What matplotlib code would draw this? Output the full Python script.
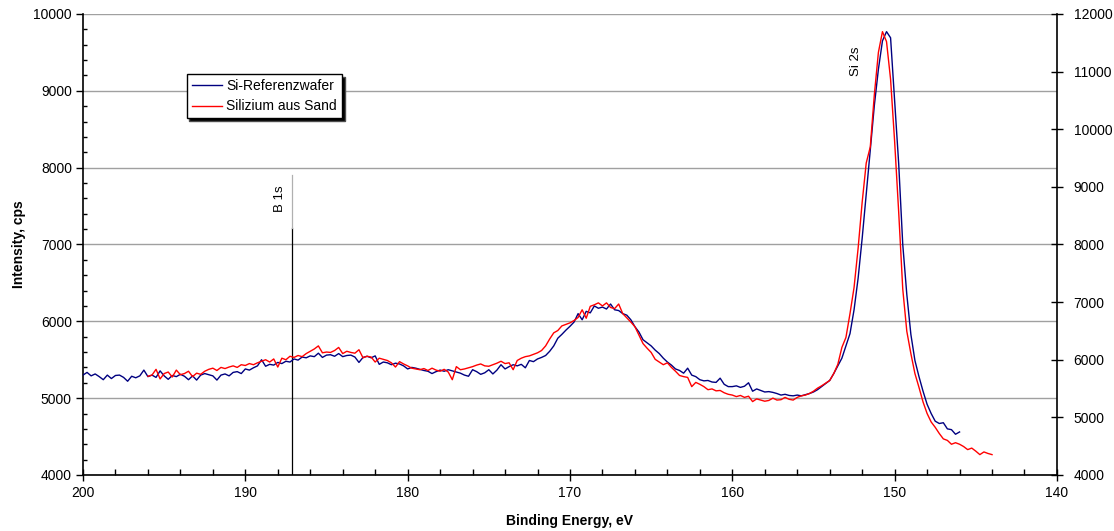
import numpy as np
import matplotlib
matplotlib.use("Agg")
import matplotlib.pyplot as plt
from matplotlib.ticker import MultipleLocator

plt.rcParams['font.family'] = ['Liberation Sans', 'DejaVu Sans']

# spectra, 0.25 eV steps
energy_ref = np.linspace(200, 146, 217)
intensity_ref = [
    5300, 5335, 5290, 5315, 5280, 5240, 5300, 5255, 5295, 5300, 5270, 5220, 5285, 5265, 5290, 5365, 5280, 5300, 5270, 5355,
    5290, 5245, 5295, 5280, 5310, 5285, 5240, 5290, 5235, 5300, 5320, 5305, 5290, 5235, 5300, 5315, 5290, 5335, 5345, 5320,
    5380, 5365, 5395, 5420, 5500, 5415, 5440, 5430, 5465, 5450, 5480, 5470, 5510, 5495, 5535, 5525, 5550, 5540, 5585, 5530,
    5560, 5565, 5545, 5580, 5540, 5555, 5560, 5535, 5465, 5530, 5545, 5525, 5550, 5440, 5470, 5460, 5435, 5455, 5445, 5420,
    5380, 5400, 5390, 5375, 5360, 5350, 5320, 5345, 5365, 5350, 5370, 5355, 5340, 5325, 5300, 5285, 5370, 5345, 5310, 5330,
    5370, 5315, 5365, 5435, 5380, 5410, 5435, 5420, 5440, 5395, 5490, 5475, 5510, 5530, 5555, 5610, 5680, 5780, 5830, 5885,
    5935, 5990, 6100, 6020, 6130, 6110, 6200, 6170, 6185, 6160, 6225, 6150, 6140, 6100, 6080, 6020, 5930, 5860, 5760, 5720,
    5680, 5625, 5580, 5520, 5470, 5430, 5380, 5360, 5325, 5390, 5300, 5280, 5240, 5225, 5230, 5210, 5205, 5260, 5180, 5150,
    5150, 5160, 5140, 5155, 5200, 5090, 5120, 5100, 5080, 5085, 5075, 5060, 5040, 5050, 5035, 5030, 5040, 5030, 5045, 5060,
    5080, 5110, 5150, 5190, 5230, 5320, 5420, 5520, 5680, 5840, 6150, 6560, 7080, 7650, 8230, 8810, 9280, 9650, 9770, 9690,
    8880, 8050, 7000, 6350, 5830, 5490, 5280, 5090, 4920, 4800, 4700, 4670, 4680, 4600, 4590, 4530, 4560,
]

energy_sand = np.linspace(196, 144, 209)
intensity_sand = [
    5285, 5300, 5375, 5250, 5320, 5340, 5275, 5365, 5305, 5320, 5350, 5280, 5325, 5310, 5350, 5375, 5390, 5360, 5400, 5385,
    5405, 5420, 5400, 5435, 5425, 5450, 5435, 5460, 5480, 5500, 5470, 5510, 5405, 5520, 5500, 5545, 5530, 5555, 5540, 5580,
    5610, 5640, 5680, 5590, 5600, 5595, 5620, 5660, 5580, 5610, 5595, 5585, 5630, 5525, 5545, 5535, 5470, 5520, 5505, 5490,
    5460, 5405, 5475, 5445, 5420, 5390, 5380, 5370, 5385, 5360, 5390, 5365, 5350, 5375, 5340, 5240, 5410, 5370, 5380, 5395,
    5410, 5430, 5445, 5420, 5415, 5435, 5455, 5480, 5450, 5460, 5370, 5490, 5520, 5540, 5550, 5570, 5590, 5620, 5680, 5770,
    5850, 5880, 5940, 5960, 5980, 6010, 6050, 6150, 6040, 6195, 6215, 6240, 6200, 6240, 6180, 6165, 6225, 6100, 6045, 5990,
    5930, 5820, 5710, 5650, 5595, 5505, 5470, 5435, 5460, 5400, 5350, 5295, 5280, 5270, 5150, 5205, 5180, 5150, 5110, 5120,
    5095, 5100, 5070, 5050, 5040, 5020, 5035, 5010, 5025, 4955, 4990, 4975, 4960, 4970, 5000, 4975, 4980, 5010, 4985, 4975,
    5010, 5030, 5040, 5060, 5090, 5130, 5160, 5195, 5230, 5320, 5440, 5660, 5790, 6100, 6440, 6950, 7550, 8060, 8270, 8950,
    9500, 9770, 9640, 9150, 8340, 7420, 6420, 5870, 5580, 5320, 5140, 4950, 4800, 4690, 4620, 4540, 4470, 4450, 4400, 4420,
    4400, 4370, 4330, 4350, 4310, 4265, 4300, 4280, 4265,
]

series_labels = ["Si-Referenzwafer", "Silizium aus Sand"]

# peak markers
b1s_energy = 187.1
b1s_top = 7215
b1s_faint_top = 7900

fig = plt.figure(figsize=(11.14, 5.31), dpi=100)
ax = fig.add_axes([0.0745, 0.1055, 0.8743, 0.8682])

ax.plot(energy_ref, intensity_ref, color="#000080", lw=1.0, label=series_labels[0], zorder=3)
ax.plot(energy_sand, intensity_sand, color="#ff0000", lw=1.0, label=series_labels[1], zorder=4)

# B 1s line: solid part + faint part above
ax.plot([b1s_energy, b1s_energy], [4000, b1s_top], color="black", lw=0.9, zorder=2)
ax.plot([b1s_energy, b1s_energy], [b1s_top, b1s_faint_top], color="#b0b0b0", lw=0.9, zorder=2)
ax.text(187.85, 7600, "B 1s", rotation=90, ha="center", va="center", fontsize=9.5)
ax.text(152.4, 9380, "Si 2s", rotation=90, ha="center", va="center", fontsize=9.5)

ax.set_xlim(200, 140)
ax.set_ylim(4000, 10000)
ax.xaxis.set_major_locator(MultipleLocator(10))
ax.xaxis.set_minor_locator(MultipleLocator(2))
ax.yaxis.set_major_locator(MultipleLocator(1000))
ax.yaxis.set_minor_locator(MultipleLocator(200))
ax.grid(axis="y", which="major", color="#a0a0a0", lw=1.0, zorder=0)
ax.set_axisbelow(True)

ax.tick_params(axis="x", which="major", direction="inout", length=8, width=1, labelsize=10, pad=4)
ax.tick_params(axis="x", which="minor", direction="in", length=4, width=1)
ax.tick_params(axis="y", which="major", direction="out", length=5, width=1, labelsize=10, pad=3)
ax.tick_params(axis="y", which="minor", direction="in", length=3, width=1)

ax.spines["top"].set_visible(False)
ax.spines["right"].set_visible(False)
for s in ["left", "bottom"]:
    ax.spines[s].set_linewidth(1.2)

ax.set_xlabel("Binding Energy, eV", fontsize=10, fontweight="bold", labelpad=10)
ax.set_ylabel("Intensity, cps", fontsize=10, fontweight="bold", labelpad=5)

# right axis
ax2 = ax.twinx()
ax2.set_ylim(4000, 12000)
ax2.yaxis.set_major_locator(MultipleLocator(1000))
ax2.tick_params(axis="y", direction="inout", length=8, width=1, labelsize=10, pad=8)
ax2.spines["top"].set_visible(False)
ax2.spines["left"].set_visible(False)
ax2.spines["bottom"].set_visible(False)
ax2.spines["right"].set_linewidth(1.2)

leg = ax.legend(loc="upper left", bbox_to_anchor=(0.1065, 0.869), borderaxespad=0,
                fancybox=False, edgecolor="black", framealpha=1, fontsize=10,
                handlelength=2.2, handletextpad=0.3, borderpad=0.35, labelspacing=0.45,
                shadow={"facecolor": "black", "alpha": 1.0})
leg.get_frame().set_linewidth(1.0)
leg.set_zorder(10)

fig.savefig("out.png", dpi=100)
